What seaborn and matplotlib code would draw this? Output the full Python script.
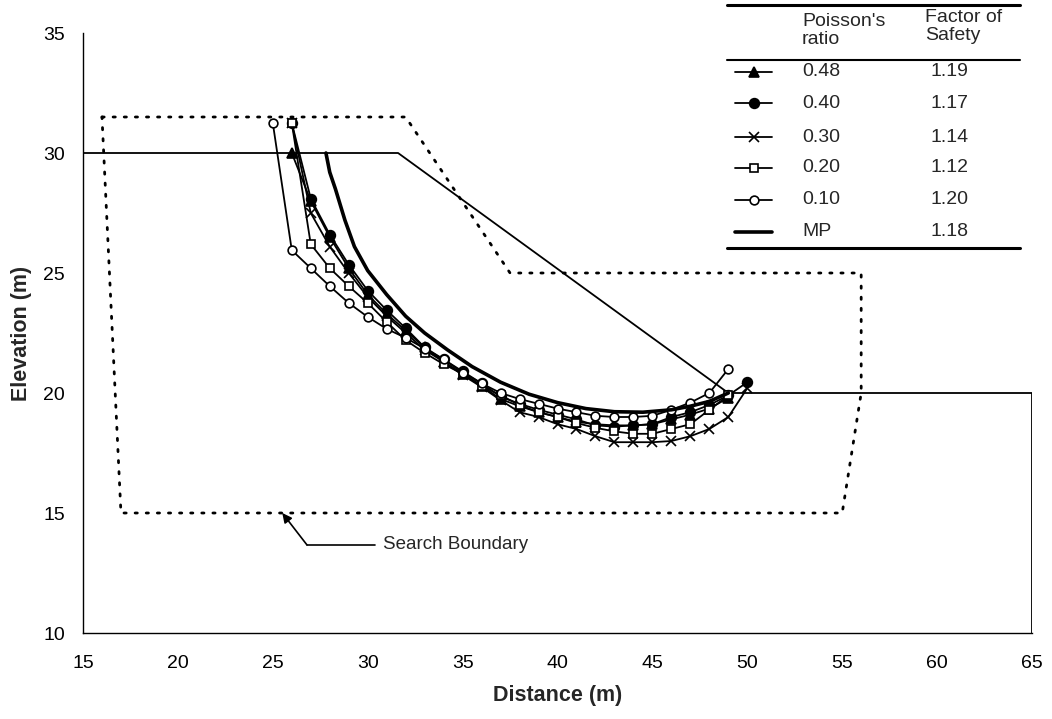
import matplotlib
matplotlib.use("Agg")
import numpy as np
import pandas as pd
import seaborn as sns
import matplotlib.pyplot as plt
from matplotlib.lines import Line2D

# ---- slip surfaces for each Poisson's ratio (distance m, elevation m) ----
x_048 = [26, 27, 28, 29, 30, 31, 32, 33, 34, 35, 36, 37, 38, 39, 40, 41, 42, 43, 44, 45, 46, 47, 48, 49]
y_048 = [30.0, 28.0, 26.5, 25.2, 24.1, 23.3, 22.6, 21.9, 21.3, 20.8, 20.3, 19.75, 19.45, 19.2,
         19.0, 18.8, 18.7, 18.65, 18.65, 18.7, 18.9, 19.1, 19.35, 19.8]

x_040 = [26, 27, 28, 29, 30, 31, 32, 33, 34, 35, 36, 37, 38, 39, 40, 41, 42, 43, 44, 45, 46, 47, 48, 49, 50]
y_040 = [31.25, 28.1, 26.6, 25.35, 24.27, 23.45, 22.7, 21.9, 21.4, 20.9, 20.4, 19.85, 19.55, 19.3,
         19.1, 18.9, 18.65, 18.6, 18.65, 18.7, 19.0, 19.2, 19.5, 19.9, 20.45]

x_030 = [26, 27, 28, 29, 30, 31, 32, 33, 34, 35, 36, 37, 38, 39, 40, 41, 42, 43, 44, 45, 46, 47, 48, 49, 50]
y_030 = [31.25, 27.5, 26.1, 25.0, 24.0, 23.2, 22.5, 21.8, 21.3, 20.75, 20.25, 19.7, 19.2, 19.0,
         18.7, 18.5, 18.2, 17.95, 17.95, 17.95, 18.0, 18.2, 18.5, 19.0, 20.2]

x_020 = [26, 27, 28, 29, 30, 31, 32, 33, 34, 35, 36, 37, 38, 39, 40, 41, 42, 43, 44, 45, 46, 47, 48, 49]
y_020 = [31.25, 26.2, 25.2, 24.45, 23.75, 22.96, 22.2, 21.67, 21.2, 20.8, 20.3, 19.9, 19.5, 19.2,
         19.0, 18.75, 18.55, 18.4, 18.3, 18.3, 18.5, 18.7, 19.3, 19.9]

x_010 = [25, 26, 27, 28, 29, 30, 31, 32, 33, 34, 35, 36, 37, 38, 39, 40, 41, 42, 43, 44, 45, 46, 47, 48, 49]
y_010 = [31.25, 25.95, 25.2, 24.45, 23.75, 23.17, 22.67, 22.3, 21.85, 21.4, 20.85, 20.4, 20.0, 19.75,
         19.55, 19.35, 19.2, 19.05, 19.0, 19.0, 19.05, 19.3, 19.6, 20.0, 21.0]

# Morgenstern-Price critical surface
x_mp = [27.8, 28.0, 28.3, 28.8, 29.3, 30.0, 31.0, 32.0, 33.0, 34.2, 35.5, 37.0, 38.5, 40.0,
        41.5, 43.0, 44.5, 46.0, 47.0, 48.0, 49.0]
y_mp = [30.0, 29.2, 28.5, 27.2, 26.1, 25.1, 24.1, 23.2, 22.5, 21.8, 21.1, 20.45, 19.95, 19.6,
        19.35, 19.22, 19.2, 19.3, 19.45, 19.65, 20.0]

# slope geometry and search boundary
ground_x = [15, 31.6, 49, 65, 65]
ground_y = [30, 30, 20, 20, 10]
search_x = [16, 32, 37.5, 56, 56, 55, 17, 16]
search_y = [31.5, 31.5, 25, 25, 20, 15, 15, 31.5]

poisson_labels = ["0.48", "0.40", "0.30", "0.20", "0.10", "MP"]
fos_labels = ["1.19", "1.17", "1.14", "1.12", "1.20", "1.18"]

sns.set_theme(style="white")
plt.rcParams["font.family"] = ["Liberation Sans", "DejaVu Sans"]

W, H = 1052, 719
fig = plt.figure(figsize=(W / 100, H / 100), dpi=100)
ax = fig.add_axes([83 / W, 1 - 633 / H, (1032 - 83) / W, (633 - 33) / H])

ax.plot(ground_x, ground_y, color="black", lw=1.3, zorder=2)
ax.plot(search_x, search_y, color="black", lw=2.0, linestyle=(0, (0.8, 3.2)),
        dash_capstyle="round", zorder=2)

styles = [
    (x_048, y_048, "^", "black", 7.0),
    (x_040, y_040, "o", "black", 7.0),
    (x_030, y_030, "x", "black", 7.0),
    (x_020, y_020, "s", "white", 6.3),
    (x_010, y_010, "o", "white", 6.3),
]
for xs, ys, mk, fc, ms in styles:
    df = pd.DataFrame({"x": xs, "y": ys})
    sns.lineplot(data=df, x="x", y="y", ax=ax, sort=False, estimator=None, color="black",
                 lw=1.3, marker=mk, markersize=ms, markerfacecolor=fc,
                 markeredgecolor="black", markeredgewidth=1.2, zorder=3)

df_mp = pd.DataFrame({"x": x_mp, "y": y_mp})
sns.lineplot(data=df_mp, x="x", y="y", ax=ax, sort=False, estimator=None,
             color="black", lw=2.6, zorder=4)

# annotation for the search region
ax.plot([26.8, 30.4], [13.67, 13.67], color="black", lw=1.2)
ax.annotate("", xy=(25.5, 15.0), xytext=(26.8, 13.67),
            arrowprops=dict(arrowstyle="-|>", color="black", lw=1.2,
                            mutation_scale=14, shrinkA=0, shrinkB=0))
ax.text(30.8, 13.7, "Search Boundary", fontsize=13.5, va="center", ha="left")

ax.set_xlim(15, 65)
ax.set_ylim(10, 35)
ax.set_xticks(range(15, 66, 5))
ax.set_yticks(range(10, 36, 5))
ax.tick_params(direction="out", length=5, width=1, labelsize=14, colors="black")
ax.tick_params(axis="x", pad=11)
ax.tick_params(axis="y", pad=8)
for s in ["top", "right"]:
    ax.spines[s].set_visible(False)
for s in ["left", "bottom"]:
    ax.spines[s].set_color("black")
    ax.spines[s].set_linewidth(1.0)
ax.set_xlabel("Distance (m)", fontsize=15.5, fontweight="bold", labelpad=9)
ax.set_ylabel("Elevation (m)", fontsize=15.5, fontweight="bold", labelpad=8)
ax.grid(False)

# ---- legend table ----
def fp(x, y):
    return x / W, 1 - y / H

def hline(x0, x1, y, lw):
    a, b = fp(x0, y)
    c, _ = fp(x1, y)
    fig.add_artist(Line2D([a, c], [b, b], color="black", lw=lw, transform=fig.transFigure))

hline(727, 1020, 5, 2.2)
hline(727, 1020, 60, 1.5)
hline(727, 1020, 248, 2.2)

fig.text(*fp(802, 13), "Poisson's\nratio", fontsize=14, va="top", ha="left", linespacing=1.05)
fig.text(*fp(925, 9), "Factor of\nSafety", fontsize=14, va="top", ha="left", linespacing=1.05)

row_y = [72, 103, 137, 168, 200, 232]
legend_marks = [("^", "black", 7.0), ("o", "black", 7.0), ("x", "black", 7.0),
                ("s", "white", 6.3), ("o", "white", 6.3), (None, None, 0)]
for i, (ry, (mk, fc, ms)) in enumerate(zip(row_y, legend_marks)):
    a, b = fp(735, ry)
    c, _ = fp(772, ry)
    m, _ = fp(753.5, ry)
    if mk is None:
        fig.add_artist(Line2D([a, c], [b, b], color="black", lw=2.6, transform=fig.transFigure))
    else:
        fig.add_artist(Line2D([a, c], [b, b], color="black", lw=1.3, transform=fig.transFigure))
        fig.add_artist(Line2D([m], [b], marker=mk, markersize=ms, markerfacecolor=fc,
                              markeredgecolor="black", markeredgewidth=1.2, color="black",
                              transform=fig.transFigure))
    fig.text(*fp(802, ry), poisson_labels[i], fontsize=14, va="center", ha="left")
    fig.text(*fp(931, ry), fos_labels[i], fontsize=14, va="center", ha="left")

fig.savefig("out.png", dpi=100)
